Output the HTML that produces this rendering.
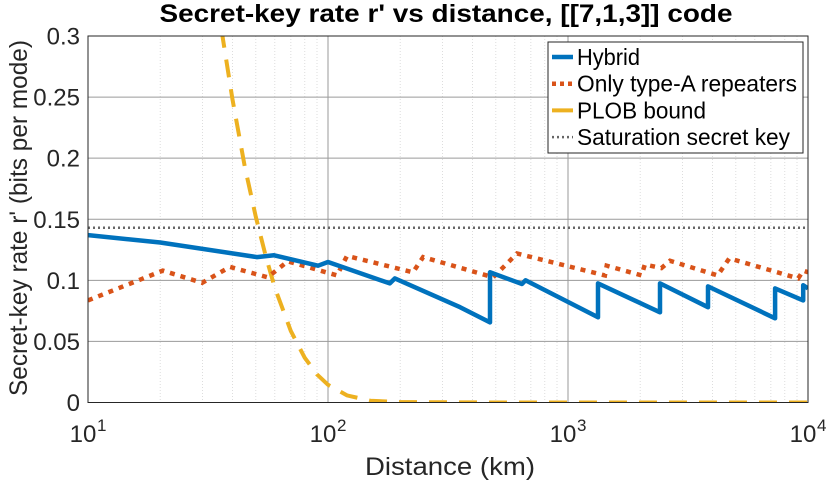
<!DOCTYPE html>
<html><head><meta charset="utf-8"><style>
body{margin:0;background:#fff}
svg{display:block;font-family:"Liberation Sans",sans-serif}
</style></head><body>
<svg id="chart" width="830" height="483" viewBox="0 0 830 483">
<rect x="0" y="0" width="830" height="483" fill="#fff"/>
<text x="446" y="22" text-anchor="middle" font-size="25" font-weight="bold" fill="#000" textLength="573" lengthAdjust="spacingAndGlyphs">Secret-key rate r' vs distance, [[7,1,3]] code</text>
<text x="450" y="475" text-anchor="middle" font-size="25" fill="#262626" textLength="170" lengthAdjust="spacingAndGlyphs">Distance (km)</text>
<text transform="translate(27,218) rotate(-90)" text-anchor="middle" font-size="25" fill="#262626" textLength="356" lengthAdjust="spacingAndGlyphs">Secret-key rate r' (bits per mode)</text>
<g id="grid"></g>
<g id="series"></g>
<g id="axes"></g>
<g id="legend"></g>
</svg>
<script>
const xTicks=[10,100,1000,10000];
const xTickExp=["1","2","3","4"];
const yTicks=[0,0.05,0.1,0.15,0.2,0.25,0.3];
const yTickLabels=["0","0.05","0.1","0.15","0.2","0.25","0.3"];
const hybridX=[10,20,50.6,59.6,90.9,100,181,190,355,473,473,643,665,1334,1334,2417,2417,3831,3831,7290,7290,9550,9550,10000];
const hybridY=[0.137,0.131,0.119,0.1205,0.112,0.115,0.0975,0.1016,0.078,0.0656,0.1066,0.097,0.100,0.0697,0.0975,0.0738,0.0975,0.078,0.095,0.0689,0.0934,0.0836,0.096,0.0934];
const typeAX=[10,20.5,29.9,39,56,68,109,120,226,249,488,613,1425,1450,2026,2090,2450,2660,4200,4700,9100,9550,10000];
const typeAY=[0.0836,0.108,0.098,0.111,0.1025,0.1156,0.104,0.120,0.1066,0.119,0.1025,0.122,0.104,0.112,0.104,0.113,0.110,0.116,0.104,0.118,0.1016,0.108,0.1066];
const plobX=[36,40,45,50,55,60,70,80,90,100,120,150,200,500,1000,10000];
const plobY=[0.305,0.248,0.193,0.152,0.120,0.094,0.0586,0.0367,0.023,0.0145,0.0058,0.00144,0.0003,0,0,0];
const satX=[10,10000];
const satY=[0.143,0.143];

const X0=88,X1=808,Y0=402.5,Y1=36;
const ns="http://www.w3.org/2000/svg";
function sx(v){return X0+(Math.log10(v)-1)/3*(X1-X0);}
function sy(v){return Y0-(v/0.3)*(Y0-Y1);}
function mk(tag,attrs,parent){const e=document.createElementNS(ns,tag);for(const k in attrs)e.setAttribute(k,attrs[k]);parent.appendChild(e);return e;}
const grid=document.getElementById('grid'),ser=document.getElementById('series'),axes=document.getElementById('axes'),leg=document.getElementById('legend');
for(let d=10;d<10000;d*=10){for(let m=2;m<10;m++){const x=sx(d*m);
const l=mk('line',{x1:x,x2:x,y1:Y1,y2:Y0,stroke:'#ddd','stroke-width':1,'stroke-dasharray':'1,2'},grid);

}}
xTicks.forEach((t,i)=>{const x=sx(t);
const l=mk('line',{x1:x,x2:x,y1:Y1,y2:Y0,stroke:'#9a9a9a','stroke-width':1},grid);


const tx=mk('text',{x:x-5,y:442,'text-anchor':'middle','font-size':24,fill:'#262626'},axes);


tx.textContent='10';
const sp=mk('text',{x:x+9,y:431,'text-anchor':'start','font-size':17,fill:'#262626'},axes);


sp.textContent=xTickExp[i];});
yTicks.forEach((t,i)=>{const y=sy(t);
const l=mk('line',{x1:X0,x2:X1,y1:y,y2:y,stroke:'#9a9a9a','stroke-width':1},grid);


const tx=mk('text',{x:80,y:y+8.5,'text-anchor':'end','font-size':24,fill:'#262626'},axes);


tx.textContent=yTickLabels[i];});
const box=mk('rect',{x:X0,y:Y1,width:X1-X0,height:Y0-Y1,fill:'none',stroke:'#262626','stroke-width':1},axes);


function path(xs,ys){return xs.map((v,i)=>(i?'L':'M')+sx(v).toFixed(1)+','+sy(ys[i]).toFixed(1)).join(' ');}
const clip=mk('clipPath',{id:'pc'},ser);mk('rect',{x:X0,y:Y1,width:X1-X0,height:Y0-Y1},clip);
const styles={
 sat:{stroke:'#666','stroke-width':2.5,'stroke-dasharray':'2,3',fill:'none'},
 plob:{stroke:'#EDB120','stroke-width':4,'stroke-dasharray':'18,12',fill:'none'},
 typea:{stroke:'#D95319','stroke-width':4.5,'stroke-dasharray':'5,6',fill:'none'},
 hyb:{stroke:'#0072BD','stroke-width':4.5,fill:'none','stroke-linejoin':'round'}};
const pS=mk('path',Object.assign({d:path(satX,satY),'clip-path':'url(#pc)'},styles.sat),ser);


const pP=mk('path',Object.assign({d:path(plobX,plobY),'clip-path':'url(#pc)'},styles.plob),ser);


const pA=mk('path',Object.assign({d:path(typeAX,typeAY),'clip-path':'url(#pc)'},styles.typea),ser);


const pH=mk('path',Object.assign({d:path(hybridX,hybridY),'clip-path':'url(#pc)'},styles.hyb),ser);


const lb=mk('rect',{x:548,y:42,width:255,height:111,fill:'#fff',stroke:'#262626','stroke-width':1},leg);


const entries=[['Hybrid',styles.hyb],['Only type-A repeaters',styles.typea],['PLOB bound',styles.plob],['Saturation secret key',styles.sat]];
const legWidths=[63,220,129,213];
entries.forEach((e,i)=>{const y=57+i*26.7;
const st=Object.assign({},e[1]);
if(i===1)st['stroke-dasharray']='4,4';
if(i===2)st['stroke-dasharray']='none';
const ln=mk('line',Object.assign({x1:552,x2:573,y1:y,y2:y},st),leg);


const t=mk('text',{x:577,y:y+8,'font-size':23,fill:'#000',textLength:legWidths[i],lengthAdjust:'spacingAndGlyphs'},leg);


t.textContent=e[0];});
</script>
</body></html>
